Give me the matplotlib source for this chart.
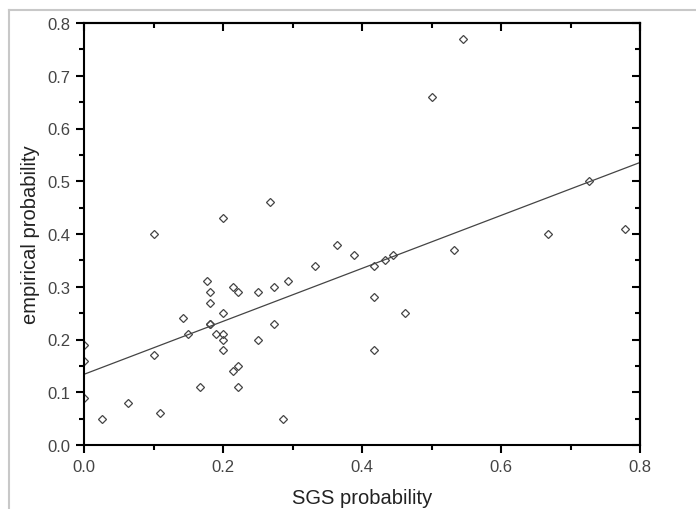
import matplotlib
matplotlib.use('Agg')
import matplotlib.pyplot as plt
import numpy as np
from matplotlib.lines import Line2D
from matplotlib.ticker import MultipleLocator

plt.rcParams['font.family'] = ['Liberation Sans', 'DejaVu Sans']

# points
sgs = [0.0, 0.0, 0.0, 0.026, 0.063, 0.10, 0.10, 0.11, 0.143, 0.15,
       0.167, 0.177, 0.182, 0.182, 0.182, 0.182, 0.19, 0.20, 0.20, 0.20,
       0.20, 0.20, 0.214, 0.214, 0.222, 0.222, 0.222, 0.25, 0.25, 0.267,
       0.273, 0.273, 0.286, 0.294, 0.333, 0.364, 0.389, 0.417, 0.417, 0.417,
       0.433, 0.444, 0.462, 0.50, 0.533, 0.545, 0.667, 0.727, 0.778]
emp = [0.19, 0.16, 0.09, 0.05, 0.08, 0.40, 0.17, 0.06, 0.24, 0.21,
       0.11, 0.31, 0.29, 0.27, 0.23, 0.23, 0.21, 0.43, 0.25, 0.21,
       0.20, 0.18, 0.30, 0.14, 0.29, 0.15, 0.11, 0.29, 0.20, 0.46,
       0.30, 0.23, 0.05, 0.31, 0.34, 0.38, 0.36, 0.34, 0.28, 0.18,
       0.35, 0.36, 0.25, 0.66, 0.37, 0.77, 0.40, 0.50, 0.41]

# fitted line
intercept = 0.134
slope = 0.502

fig = plt.figure(figsize=(6.96, 5.10), dpi=100)
ax = fig.add_axes([84/696, 1 - 446/510, 556/696, 422/510])

ax.plot(sgs, emp, linestyle='none', marker='D', markersize=3.6,
        markerfacecolor='none', markeredgecolor='#444444', markeredgewidth=0.9)
xs = np.array([0.0, 0.8])
ax.plot(xs, intercept + slope * xs, color='#444444', linewidth=0.9)

ax.set_xlim(0, 0.8)
ax.set_ylim(0, 0.8)
ax.xaxis.set_major_locator(MultipleLocator(0.2))
ax.xaxis.set_minor_locator(MultipleLocator(0.1))
ax.yaxis.set_major_locator(MultipleLocator(0.1))
ax.yaxis.set_minor_locator(MultipleLocator(0.05))
ax.xaxis.set_major_formatter(plt.FormatStrFormatter('%.1f'))
ax.yaxis.set_major_formatter(plt.FormatStrFormatter('%.1f'))

for s in ax.spines.values():
    s.set_linewidth(1.5)
ax.tick_params(which='both', direction='out', width=1.5, labelsize=12,
               labelcolor='#444444', top=False, right=False)
ax.tick_params(which='major', length=6, pad=4)
ax.tick_params(which='minor', length=3.5)

# inward ticks on the top and right edges
axt = ax.secondary_xaxis('top')
axt.xaxis.set_major_locator(MultipleLocator(0.2))
axt.xaxis.set_minor_locator(MultipleLocator(0.1))
axt.tick_params(which='both', direction='in', width=1.5, labeltop=False)
axt.tick_params(which='major', length=6)
axt.tick_params(which='minor', length=3.5)
axt.spines['top'].set_linewidth(1.5)
axr = ax.secondary_yaxis('right')
axr.yaxis.set_major_locator(MultipleLocator(0.1))
axr.yaxis.set_minor_locator(MultipleLocator(0.05))
axr.tick_params(which='both', direction='in', width=1.5, labelright=False)
axr.tick_params(which='major', length=6)
axr.tick_params(which='minor', length=3.5)
axr.spines['right'].set_linewidth(1.5)

ax.set_xlabel('SGS probability', fontsize=14.5, color='#222222', labelpad=10)
ax.set_ylabel('empirical probability', fontsize=14.5, color='#222222', labelpad=5)

# light grey frame on the top and left of the image
fig.add_artist(Line2D([9/696, 1], [1 - 11/510, 1 - 11/510], color='#c8c8c8', linewidth=1.5))
fig.add_artist(Line2D([9/696, 9/696], [0, 1 - 11/510], color='#c8c8c8', linewidth=1.5))

fig.savefig('out.png', dpi=100)
